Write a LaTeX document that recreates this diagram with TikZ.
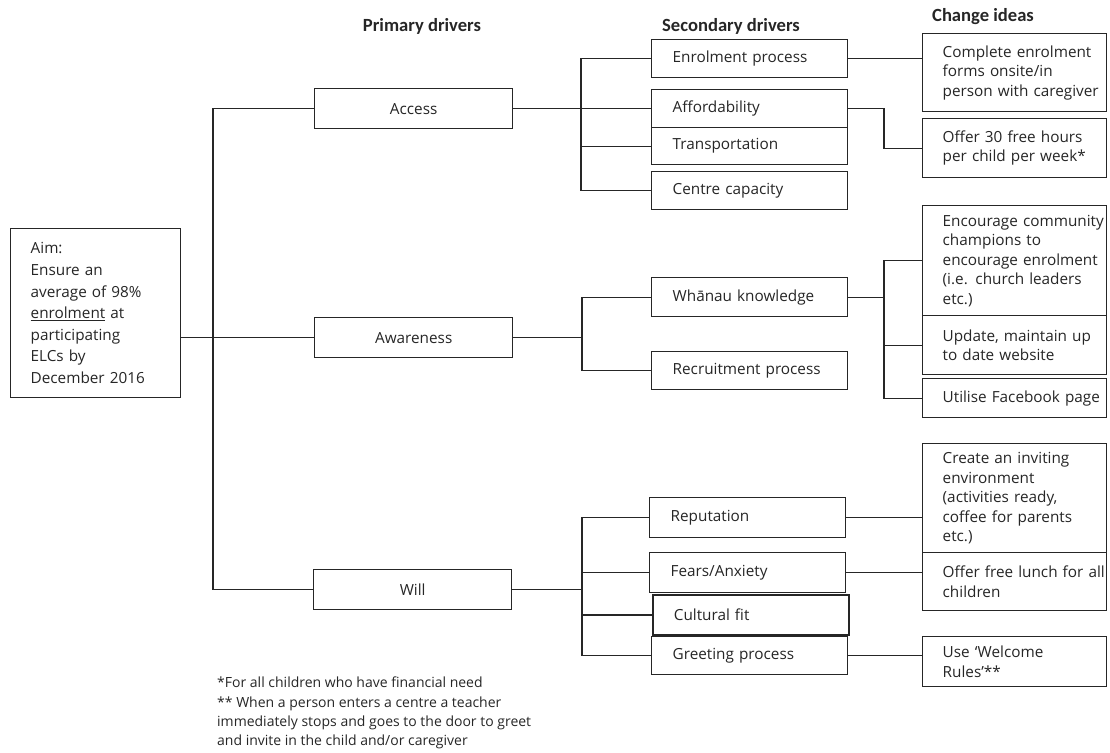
\documentclass[tikz,border=0pt]{standalone}
\usepackage{fontspec}
\setmainfont{Open Sans}
\newfontfamily\hdfont{Carlito}
\begin{document}
\begin{tikzpicture}[x=1pt,y=-1pt,
  box/.style={draw=black!85, fill=white, line width=1.4pt, rectangle, inner xsep=0pt, inner ysep=0pt,
    align=left, font=\fontsize{15.3}{19.5}\selectfont, text=black!85},
  pbox/.style={box, minimum width=198pt, minimum height=40pt, align=center},
  sbox/.style={box, text width=196pt, minimum height=38pt, execute at begin node={\leftskip=21pt}},
  cbox/.style={box, text width=184pt, execute at begin node={\leftskip=20pt}},
  hd/.style={font=\hdfont\bfseries\fontsize{18.6}{22}\selectfont, text=black!85, inner sep=0pt},
  link/.style={draw=black!85, line width=1.3pt},
]
\useasboundingbox (0,0) rectangle (1110,752);

% headers
\node[hd] (h1) at (422,26) {Primary drivers};
\node[hd] (h2) at (731,26) {Secondary drivers};
\node[hd] (h3) at (983,17) {Change ideas};

% aim
\node[box, text width=170pt, minimum height=169pt, anchor=north west,
  font=\fontsize{15.3}{21.6}\selectfont, execute at begin node={\leftskip=20pt}]
  (aim) at (10,228) {Aim:\\Ensure an\\average of 98\%\\\underline{enrolment} at\\participating\\ELCs by\\December 2016};

% primary drivers
\node[pbox, anchor=north west] (acc) at (314,88) {Access};
\node[pbox, anchor=north west] (awa) at (314,317) {Awareness};
\node[pbox, anchor=north west] (wil) at (313,569) {Will};

% secondary drivers
\node[sbox, anchor=north west] (enr) at (651,39) {Enrolment process};
\node[sbox, anchor=north west] (aff) at (651,89) {Affordability};
\node[sbox, anchor=north west, minimum height=37pt] (tra) at (651,127) {Transportation};
\node[sbox, anchor=north west] (cen) at (651,171) {Centre capacity};
\node[sbox, anchor=north west, minimum height=39pt] (wha) at (651,277) {Whānau knowledge};
\node[sbox, anchor=north west] (rec) at (651,351) {Recruitment process};
\node[sbox, anchor=north west, minimum height=40pt] (rep) at (649,497) {Reputation};
\node[sbox, anchor=north west, minimum height=40pt] (fea) at (649,552) {Fears/Anxiety};
\node[sbox, anchor=north west, minimum height=40pt, line width=1.7pt] (cul) at (652,594) {Cultural fit};
\node[sbox, anchor=north west] (gre) at (651,636) {Greeting process};

% change ideas
\node[cbox, anchor=north west, minimum height=78pt] (c1) at (922,33) {Complete enrolment\\forms onsite/in\\person with caregiver};
\node[cbox, anchor=north west, minimum height=59pt] (c2) at (922,118) {Offer 30 free hours\\per child per week*};
\node[cbox, anchor=north west, minimum height=110pt] (c3) at (922,205) {Encourage community\\champions to\\encourage enrolment\\(i.e. church leaders\\etc.)};
\node[cbox, anchor=north west, minimum height=59pt] (c4) at (922,315) {Update, maintain up\\to date website};
\node[cbox, anchor=north west, minimum height=39pt] (c5) at (922,378) {Utilise Facebook page};
\node[cbox, anchor=north west, minimum height=109pt] (c6) at (922,443) {Create an inviting\\environment\\(activities ready,\\coffee for parents\\etc.)};
\node[cbox, anchor=north west, minimum height=58pt] (c7) at (922,552) {Offer free lunch for all\\children};
\node[cbox, anchor=north west, minimum height=50pt] (c8) at (922,636) {Use ‘Welcome\\Rules’**};

% footnotes
\node[anchor=west, align=left, font=\fontsize{14}{19.3}\selectfont, inner sep=0pt, text=black!85]
  (fn) at (217,713) {*For all children who have financial need\\** When a person enters a centre a teacher\\immediately stops and goes to the door to greet\\and invite in the child and/or caregiver};

% spine coordinates
\coordinate (p1) at (213,0);
\coordinate (s1) at (581,0);
\coordinate (s2) at (582,0);
\coordinate (s3) at (582,0);
\coordinate (k1) at (884,0);

% aim -> primary
\draw[link] (aim.east |- awa.west) -- (awa.west);
\draw[link] (acc.west) -- (p1 |- acc.west) -- (p1 |- wil.west) -- (wil.west);

% access group
\draw[link] (acc.east) -- (s1 |- acc.east);
\draw[link] (enr.west) -- (s1 |- enr.west) -- (s1 |- cen.west) -- (cen.west);
\draw[link] (s1 |- aff.west) -- (aff.west);
\draw[link] (s1 |- tra.west) -- (tra.west);

% awareness group
\draw[link] (awa.east) -- (s2 |- awa.east);
\draw[link] (wha.west) -- (s2 |- wha.west) -- (s2 |- rec.west) -- (rec.west);

% will group
\draw[link] (wil.east) -- (s3 |- wil.east);
\draw[link] (rep.west) -- (s3 |- rep.west) -- (s3 |- gre.west) -- (gre.west);
\draw[link] (s3 |- fea.west) -- (fea.west);
\draw[link] (s3 |- cul.west) -- (cul.west);

% change idea links
\draw[link] (enr.east) -- (enr.east -| c1.west);
\draw[link] (aff.east) -- (k1 |- aff.east) -- (k1 |- c2.west) -- (c2.west);
\draw[link] (wha.east) -- (k1 |- wha.east);
\draw[link] (c3.west) -- (k1 |- c3.west) -- (k1 |- c5.west) -- (c5.west);
\draw[link] (k1 |- c4.west) -- (c4.west);
\draw[link] (rep.east) -- (rep.east -| c6.west);
\draw[link] (fea.east) -- (fea.east -| c7.west);
\draw[link] (gre.east) -- (gre.east -| c8.west);
\end{tikzpicture}
\end{document}
